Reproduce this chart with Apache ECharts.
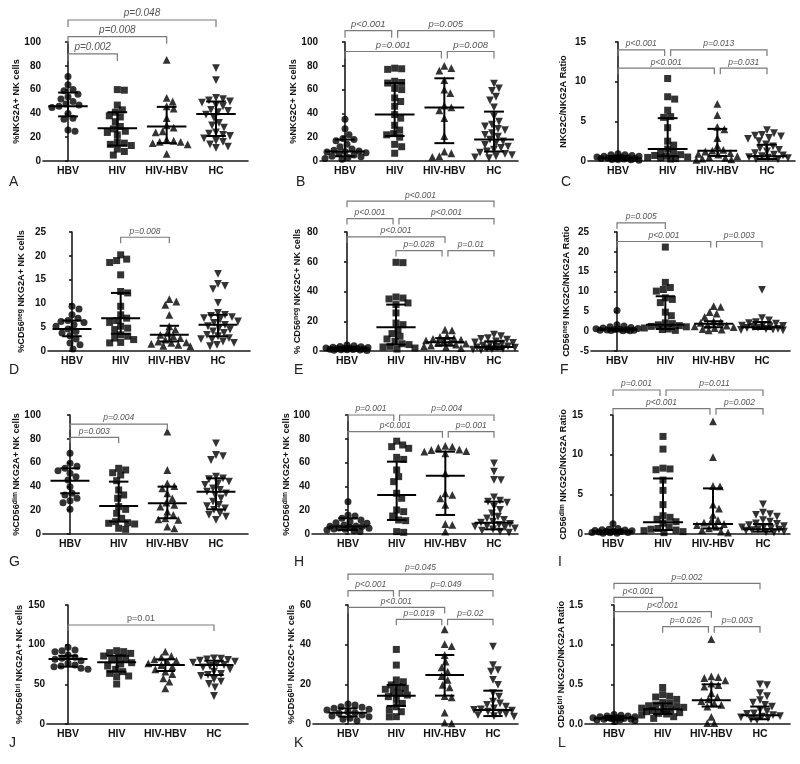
<!DOCTYPE html>
<html><head><meta charset="utf-8">
<script src="https://cdn.jsdelivr.net/npm/echarts@6/dist/echarts.min.js"></script>
<style>html,body{margin:0;padding:0;background:#fff}#c{width:800px;height:764px}</style>
</head><body><div id="c"></div>
<script>
const groups = ['HBV', 'HIV', 'HIV-HBV', 'HC'];
const symbols = ['circle', 'rect', 'triangle', 'triangle'];
const symRot = [0, 0, 0, 180];

// ---------- data: values per group [HBV, HIV, HIV-HBV, HC] ----------
const valsA = [
  [71, 64, 60, 59, 56, 54, 52, 50, 48, 47, 46, 45, 40, 36, 35, 26, 25],
  [60, 59.5, 47, 43, 41, 38, 37, 33, 29, 27, 25, 24, 22, 16, 15, 14, 13, 10, 8, 5],
  [85, 53, 50, 46, 44, 36, 30, 28, 25, 24, 18, 17, 16, 16, 15, 14, 6],
  [78, 68, 53, 52, 51, 50, 49, 47, 46, 43, 42, 41, 39, 36, 32, 30, 28, 24, 23, 22, 21, 19, 17, 16, 14, 12, 11]
];
const statsA = [[46, 37.5, 57.5], [27.5, 13, 41], [29, 15, 45.5], [39.5, 21, 50]];
const sigA = [[0, 1, 90, 'p=0.002'], [0, 2, 104.5, 'p=0.008'], [0, 3, 118.5, 'p=0.048']];

const valsB = [
  [35, 27, 22, 19, 18, 17, 14, 12, 10, 9, 8.5, 8, 7.5, 7, 6, 5, 4, 3.5, 3, 2, 1.5],
  [78, 77.5, 77, 67, 66, 65.5, 61, 60, 53, 50, 46, 39, 36, 30, 26, 23, 22, 20, 14, 12, 6.5],
  [80, 78, 76, 68, 60, 57, 46.5, 45, 42.5, 36, 21, 8, 6.5, 4, 3.5],
  [65, 61, 59, 54, 51, 45, 37.5, 33, 30.5, 29, 27, 26, 23.5, 22, 20.5, 18, 16.5, 15, 13.5, 12, 11, 9.5, 8, 7, 6, 5, 4, 3, 2.5]
];
const statsB = [[8, 4, 18], [39, 21, 65.5], [45, 15, 69.5], [18, 8, 41.5]];
const sigB = [[0, 1, 109.5, 'p<0.001'], [1, 3, 109.5, 'p=0.005'], [0, 2, 92, 'p=0.001'], [2, 3, 92, 'p=0.008']];

const valsC = [
  [0.9, 0.8, 0.8, 0.7, 0.6, 0.6, 0.5, 0.5, 0.4, 0.4, 0.35, 0.3, 0.3, 0.25, 0.2, 0.2, 0.15, 0.1],
  [10.4, 8.1, 7.8, 6.4, 5.6, 5.5, 4.2, 2.5, 2.0, 1.5, 1.2, 1.0, 0.8, 0.7, 0.6, 0.5, 0.45, 0.4, 0.3, 0.25],
  [7.2, 5.8, 4.3, 4.0, 2.9, 1.9, 1.4, 1.3, 1.2, 1.0, 0.9, 0.8, 0.6, 0.5, 0.4, 0.3, 0.2, 0.15],
  [3.9, 3.5, 3.3, 3.2, 3.1, 2.9, 2.8, 2.5, 2.1, 1.85, 1.6, 1.4, 1.2, 1.0, 0.8, 0.7, 0.6, 0.5, 0.42, 0.35, 0.25, 0.2]
];
const statsC = [[0.33, 0.15, 0.6], [1.5, 0.6, 5.4], [1.3, 0.63, 4.05], [0.59, 0.25, 2.05]];
const sigC = [[0, 1, 14, 'p<0.001'], [1, 3, 14, 'p=0.013'], [0, 2, 11.7, 'p<0.001'], [2, 3, 11.7, 'p=0.031']];

const valsD = [
  [9.4, 8.8, 7.6, 6.9, 6.4, 6.2, 6, 5.5, 5.2, 4.6, 4.1, 3.8, 3.2, 2.5, 1.7, 1.3, 0.4],
  [20.2, 19.3, 19.0, 18.6, 16, 12.5, 12.2, 9.4, 7.6, 6.9, 6.4, 6, 5.2, 4.8, 4.5, 3.4, 3.1, 2.7, 2.4, 1.8, 1.7],
  [10.9, 10.4, 9.7, 7.6, 5.2, 4.5, 3.8, 3.4, 3.1, 2.7, 2.4, 2, 1.8, 1.7, 1.5, 1.3, 1.1, 1],
  [16.2, 14.1, 13.7, 13, 10.1, 8, 7.6, 7.4, 7.1, 6.9, 6.6, 6.2, 5.9, 5.5, 5.2, 4.8, 4.5, 4.1, 3.8, 3.4, 3.1, 2.7, 2.5, 2.4, 2, 1.7, 1.3, 1]
];
const statsD = [[4.6, 3.1, 6.4], [6.9, 3.6, 12.2], [3.4, 2.0, 5.3], [5.5, 3.1, 7.6]];
const sigD = [[1, 2, 23.9, 'p=0.008']];

const valsE = [
  [4, 3.5, 3, 2.8, 2.5, 2.3, 2.1, 2.0, 1.8, 1.6, 1.5, 1.3, 1.2, 1.0, 0.9, 0.8, 0.6, 0.5, 0.3],
  [59.6, 59.4, 36.3, 35.6, 35, 32.3, 31.2, 25.6, 18.8, 17.7, 14.3, 11.7, 9.9, 8.1, 6.5, 4.9, 4.3, 3.1, 2.7, 2, 1.3],
  [14.3, 13.9, 9.9, 9.4, 8.7, 8.1, 7.6, 7.2, 6.5, 5.8, 5.4, 4.9, 4.3, 3.6, 3.1, 2.7, 2],
  [11, 9.9, 8.7, 8.1, 7.6, 6.5, 5.8, 5.4, 4.9, 4.3, 3.6, 3.1, 2.7, 2.2, 1.8, 1.3, 0.9, 0.6, 1.5, 2.4]
];
const statsE = [[1.5, 0.9, 2.5], [15.9, 4.3, 31.2], [5.8, 3.6, 8.7], [2.7, 1.3, 6.5]];
const sigE = [[0, 3, 100.7, 'p<0.001'], [0, 1, 89, 'p<0.001'], [1, 3, 89, 'p<0.001'], [0, 2, 76.7, 'p<0.001'], [1, 2, 67.5, 'p=0.028'], [2, 3, 67.5, 'p=0.01']];

const valsF = [
  [5.2, 1.6, 1.3, 1.1, 0.9, 0.8, 0.7, 0.6, 0.5, 0.4, 0.35, 0.3, 0.25, 0.2, 0.15, 0.1, 0.1],
  [21.2, 12.3, 11, 10.5, 10.1, 8.4, 8, 7.2, 4.8, 3.9, 2.1, 1.9, 1.6, 1.4, 1.2, 1.1, 0.8, 0.55, 0.4, 0.2],
  [6.3, 6.1, 4.8, 4.4, 3.6, 2.5, 2.3, 2.1, 1.6, 1.4, 1.2, 1.05, 0.8, 0.55, 0.4, 0.2],
  [10.4, 3.3, 2.7, 2.3, 1.9, 1.6, 1.4, 1.2, 1.05, 0.8, 0.55, 0.4, 0.2, 0.3, 0.6, 0.9, 1.3, 2.0]
];
const statsF = [[0.4, 0.2, 0.6], [1.6, 0.55, 8.8], [1.9, 1.0, 2.5], [1.0, 0.55, 2.3]];
const sigF = [[0, 1, 27.3, 'p=0.005'], [0, 2, 22.6, 'p<0.001'], [2, 3, 22.6, 'p=0.003']];

const valsG = [
  [67.8, 59.4, 57, 55.2, 53.2, 51, 48.2, 45.4, 39.8, 34.2, 32.8, 30, 28, 26.3, 20.7],
  [55.2, 53.8, 51.5, 49.6, 44.8, 37, 32.8, 30, 23, 20.7, 17.4, 13.2, 10.4, 9.5, 9, 8.4, 4.8, 3.9],
  [86, 53.8, 42.6, 40.3, 38.4, 34.2, 30, 26.3, 24.4, 23, 18.8, 16, 13.2, 12.3, 11.8, 6.2, 4.8],
  [76.2, 66.4, 65.5, 62.2, 48.2, 46.8, 46, 44, 42.6, 41.2, 38.4, 37, 35.6, 34.2, 32.8, 30, 27.2, 24.4, 23.5, 21.6, 20.2, 17.4, 16, 14.6, 11.8]
];
const statsG = [[44.8, 34.2, 55.2], [23.5, 10.4, 44], [25.8, 13.2, 39.8], [35.6, 20.7, 46.8]];
const sigG = [[0, 1, 81.2, 'p=0.003'], [0, 2, 92.4, 'p=0.004']];

const valsH = [
  [27.2, 16, 15.1, 13.2, 11.8, 10.4, 9.5, 9, 7.6, 6.7, 6.2, 5.6, 4.8, 3.9, 3.4, 2.8, 2, 5, 4.2, 6.5],
  [78, 74.8, 73.4, 72, 64.4, 62.7, 53.8, 48.2, 44, 34.2, 30, 20.2, 18.8, 15.1, 11.8, 11.2, 2, 1.4],
  [74, 73.4, 72.5, 71, 70.6, 69.7, 69.2, 67.8, 51, 34.2, 32.8, 30, 24.4, 8.4, 7.6, 2],
  [59.4, 52.4, 45.4, 45.2, 30.8, 28, 27.2, 26.3, 23, 20.2, 17.4, 14.6, 13.2, 11.8, 10.4, 9.5, 8.4, 7.6, 6.7, 6.2, 5.6, 4.8, 3.9, 2.8, 2, 1.1]
];
const statsH = [[6.2, 3.4, 13.2], [32.8, 11.8, 60.8], [49, 16, 69.2], [9.5, 3.9, 27.2]];
const sigH = [[0, 1, 100, 'p=0.001'], [1, 3, 100, 'p=0.004'], [0, 2, 86, 'p<0.001'], [2, 3, 86, 'p=0.001']];

const valsI = [
  [1.3, 0.7, 0.6, 0.55, 0.5, 0.45, 0.4, 0.35, 0.3, 0.3, 0.25, 0.2, 0.2, 0.15, 0.1, 0.1],
  [12.3, 10.7, 8.3, 8.2, 8.1, 6.8, 5.5, 3.7, 2.3, 2.1, 1.85, 1.55, 1.35, 0.9, 0.7, 0.6, 0.5, 0.42, 0.3, 0.17],
  [14.2, 9.7, 6.05, 6, 3.7, 3.2, 2.4, 1.75, 1.55, 1.43, 1.26, 1.13, 0.9, 0.7, 0.5, 0.3, 0.17],
  [3.74, 2.7, 2.5, 2.4, 2.2, 1.75, 1.55, 1.35, 1.26, 1.13, 1.0, 0.9, 0.84, 0.7, 0.6, 0.5, 0.42, 0.3, 0.17, 0.25, 0.55]
];
const statsI = [[0.3, 0.15, 0.5], [1.47, 0.5, 7.0], [1.26, 0.7, 5.75], [0.6, 0.3, 1.26]];
const sigI = [[0, 1, 18.15, 'p=0.001'], [1, 3, 18.15, 'p=0.011'], [0, 2, 15.8, 'p<0.001'], [2, 3, 15.8, 'p=0.002']];

const valsJ = [
  [96.6, 93.3, 92.4, 91.2, 87, 84, 82.8, 81.5, 79.8, 76.5, 74.4, 73.1, 72.3, 70.2, 68.9],
  [92.4, 91.2, 89.9, 89, 85.7, 84, 82.8, 80.7, 77.3, 75.6, 73.1, 68.9, 66, 63.8, 60.5, 59.7, 50.4],
  [91.2, 85.7, 84, 81.5, 79.8, 78.6, 76.5, 74.4, 72.3, 68.9, 66, 63, 57.6, 53.4, 45],
  [82.8, 82.5, 81.5, 80.7, 79.8, 78.6, 77.3, 75.6, 74.4, 73.1, 71.4, 68.9, 66, 63, 61.8, 60.5, 56.3, 53.4, 50.4, 46.2, 35.3]
];
const statsJ = [[82, 72.3, 86], [77.7, 66, 86], [74.4, 66.8, 81.5], [74.4, 61.8, 79.8]];
const sigJ = [[0, 3, 124.8, 'p=0.01']];

const valsK = [
  [10.1, 9.6, 8.7, 8.4, 7.9, 7.4, 7.1, 6.2, 5.7, 5.4, 4.5, 4, 3.7, 2.9, 2.4, 1.7],
  [37.6, 29.7, 22.2, 21.3, 19.7, 18.8, 18, 17.5, 16.3, 15.5, 14.6, 13.8, 12.4, 10.4, 8.7, 7.1, 6.2, 3.7, 3.6],
  [47.7, 40.3, 39.3, 34.8, 31.4, 28.6, 26.4, 24.2, 22.2, 19.7, 18.5, 14.1, 13.4, 5.7, 0.7, 0.3],
  [39, 29.7, 27.2, 26.4, 22.2, 19.7, 15.5, 13.8, 11.3, 10.4, 9.6, 8.7, 7.9, 7.4, 7.1, 6.7, 6.2, 5.7, 5, 4.5, 4, 3.7]
];
const statsK = [[5.7, 3.7, 7.9], [14.3, 9.1, 19.7], [24.7, 14.3, 34.8], [7.1, 4, 16.8]];
const sigK = [[0, 3, 75.6, 'p=0.045'], [0, 1, 67.2, 'p<0.001'], [1, 3, 67.2, 'p=0.049'], [0, 2, 58.8, 'p<0.001'], [1, 2, 52.8, 'p=0.019'], [2, 3, 52.8, 'p=0.02']];

const valsL = [
  [0.12, 0.11, 0.1, 0.1, 0.09, 0.09, 0.08, 0.08, 0.07, 0.07, 0.06, 0.06, 0.05, 0.05, 0.04, 0.03],
  [0.46, 0.37, 0.35, 0.34, 0.31, 0.27, 0.26, 0.24, 0.23, 0.22, 0.21, 0.2, 0.185, 0.176, 0.168, 0.155, 0.143, 0.134, 0.126, 0.113, 0.092, 0.071],
  [1.07, 0.6, 0.59, 0.58, 0.55, 0.51, 0.49, 0.47, 0.39, 0.34, 0.31, 0.29, 0.26, 0.24, 0.22, 0.09, 0.01, 0.01],
  [0.5, 0.49, 0.39, 0.35, 0.3, 0.27, 0.24, 0.22, 0.176, 0.155, 0.134, 0.126, 0.113, 0.1, 0.092, 0.084, 0.071, 0.059, 0.05]
];
const statsL = [[0.075, 0.05, 0.1], [0.185, 0.126, 0.26], [0.3, 0.22, 0.5], [0.11, 0.06, 0.22]];
const sigL = [[0, 3, 1.773, 'p=0.002'], [0, 1, 1.597, 'p<0.001'], [0, 2, 1.416, 'p<0.001'], [1, 2, 1.227, 'p=0.026'], [2, 3, 1.227, 'p=0.003']];

// y axis ranges [min, max, interval]
const yA = [0, 100, 20], yB = [0, 100, 20], yC = [0, 15, 5], yD = [0, 25, 5], yE = [0, 80, 20], yF = [-5, 25, 5];
const yG = [0, 100, 20], yH = [0, 100, 20], yI = [0, 15, 5], yJ = [0, 150, 50], yK = [0, 60, 20], yL = [0, 1.5, 0.5];

// y axis titles ({s|..} = superscript)
const titles = {
  A: '%NKG2A+ NK cells', B: '%NKG2C+ NK cells', C: 'NKG2C/NKG2A Ratio',
  D: '%CD56{s|neg} NKG2A+ NK cells', E: '% CD56{s|neg} NKG2C+ NK cells', F: 'CD56{s|neg} NKG2C/NKG2A Ratio',
  G: '%CD56{s|dim} NKG2A+ NK cells', H: '%CD56{s|dim} NKG2C+ NK cells', I: 'CD56{s|dim} NKG2C/NKG2A Ratio',
  J: '%CD56{s|bri} NKG2A+ NK cells', K: '%CD56{s|bri} NKG2C+ NK cells', L: 'CD56{s|bri} NKG2C/NKG2A Ratio'
};

const panels = [
  ['A', valsA, statsA, sigA, yA], ['B', valsB, statsB, sigB, yB], ['C', valsC, statsC, sigC, yC],
  ['D', valsD, statsD, sigD, yD], ['E', valsE, statsE, sigE, yE], ['F', valsF, statsF, sigF, yF],
  ['G', valsG, statsG, sigG, yG], ['H', valsH, statsH, sigH, yH], ['I', valsI, statsI, sigI, yI],
  ['J', valsJ, statsJ, sigJ, yJ], ['K', valsK, statsK, sigK, yK], ['L', valsL, statsL, sigL, yL]
];

// ---------- layout (pixels): axisX, top, endX, firstCenter, lastCenter, nameGap, letterX, letterY ----------
const geom = {
  A: [43, 42, 248, 68, 216, 22, 9, 175],  B: [320, 42, 518, 345, 494, 22, 296, 175], C: [588, 42, 795, 618, 767, 20, 561, 175],
  D: [48, 232, 250, 72, 218, 22, 9, 363], E: [320, 232, 518, 347, 494, 18, 294, 363], F: [591, 232, 790, 617, 762, 20, 560, 363],
  G: [43, 415, 248, 70, 216, 22, 9, 555], H: [312, 415, 518, 348, 494, 21, 294, 555], I: [585, 415, 790, 613, 763, 17, 558, 555],
  J: [47, 605, 248, 68, 214, 23, 9, 736], K: [313, 605, 518, 348, 493, 17, 294, 736], L: [585, 605, 790, 614, 760, 19, 558, 736]
};
const PLOT_H = 119;
const FONT = '"Liberation Sans", Arial, Helvetica, sans-serif';
const pFont = { A: 'italic 10px', B: 'italic 9.5px', J: '9px' };

// deterministic beeswarm (pixel space), limited half width
function swarm(values, pxPerUnit, D, maxW) {
  const placed = [], out = new Array(values.length);
  const order = values.map((v, i) => i).sort((a, b) => values[b] - values[a]);
  for (const idx of order) {
    const y = values[idx] * pxPerUnit;
    let best = 0, bestScore = -Infinity;
    for (let k = 0; k <= 2 * maxW; k++) {
      const x = (k % 2 ? 1 : -1) * Math.ceil(k / 2);
      let md = Infinity;
      for (const p of placed) { const d = Math.hypot(p.x - x, p.y - y); if (d < md) md = d; }
      if (md >= D) { best = x; bestScore = Infinity; break; }
      if (md > bestScore + 0.01) { bestScore = md; best = x; }
    }
    placed.push({ x: best, y });
    out[idx] = best;
  }
  return out;
}

const option = { animation: false, backgroundColor: '#fff', grid: [], xAxis: [], yAxis: [], series: [], graphic: [] };
const axisCol = '#1a1a1a';

panels.forEach(([key, vals, stats, sig, yr], k) => {
  const [axisX, top, endX, c0, c3, nameGap, lx, ly] = geom[key];
  const sp = (c3 - c0) / 3;
  const xmin = -(c0 - axisX) / sp, xmax = 3 + (endX - c3) / sp;
  option.grid.push({ left: axisX, top: top, width: endX - axisX, height: PLOT_H });
  option.xAxis.push({
    type: 'value', gridIndex: k, min: xmin, max: xmax,
    axisLine: { show: true, onZero: false, lineStyle: { color: axisCol, width: 1.6 } },
    axisTick: { show: false }, splitLine: { show: false },
    axisLabel: { customValues: [0, 1, 2, 3], formatter: v => groups[Math.round(v)] || '', color: '#111',
      fontWeight: 'bold', fontSize: 10.5, fontFamily: FONT, margin: 5 }
  });
  option.yAxis.push({
    type: 'value', gridIndex: k, min: yr[0], max: yr[1], interval: yr[2],
    axisLine: { show: true, lineStyle: { color: axisCol, width: 1.6 } },
    axisTick: { show: true, length: 3, lineStyle: { color: axisCol, width: 1.6 } },
    splitLine: { show: false },
    axisLabel: { color: '#111', fontWeight: 'bold', fontSize: 10, fontFamily: FONT, margin: 2,
      formatter: key === 'L' ? (v => v.toFixed(1)) : (v => String(v)) },
    name: titles[key], nameLocation: 'middle', nameGap: nameGap, nameMoveOverlap: false,
    nameTextStyle: { color: '#111', fontWeight: 'bold', fontSize: 9.2, fontFamily: FONT,
      rich: { s: { fontSize: 6.8, fontWeight: 'bold', fontFamily: FONT, color: '#111', verticalAlign: 'top' } } }
  });
  const ppu = PLOT_H / (yr[1] - yr[0]);
  vals.forEach((arr, g) => {
    const dx = swarm(arr, ppu, 6.8, 21);
    option.series.push({
      type: 'scatter', xAxisIndex: k, yAxisIndex: k, silent: true,
      symbol: symbols[g], symbolRotate: symRot[g], symbolSize: g === 2 || g === 3 ? 7.8 : 7,
      itemStyle: { color: '#000' },
      data: arr.map((v, j) => [g + dx[j] / sp, v]), z: 2
    });
  });
  // median and interquartile range
  option.series.push({
    type: 'custom', xAxisIndex: k, yAxisIndex: k, silent: true, z: 3,
    data: stats.map((s, g) => [g, s[0], s[1], s[2]]),
    encode: { x: 0, y: [1, 2, 3] },
    renderItem: (params, api) => {
      const g = api.value(0);
      const pm = api.coord([g, api.value(1)]);
      const p1 = api.coord([g, api.value(2)]);
      const p3 = api.coord([g, api.value(3)]);
      const w = api.size([1, 0])[0];
      const hw = 0.4 * w, cw = 0.2 * w;
      const st = { stroke: '#000', lineWidth: 2 };
      return { type: 'group', children: [
        { type: 'line', shape: { x1: pm[0] - hw, y1: pm[1], x2: pm[0] + hw, y2: pm[1] }, style: st },
        { type: 'line', shape: { x1: p1[0], y1: p1[1], x2: p3[0], y2: p3[1] }, style: st },
        { type: 'line', shape: { x1: p1[0] - cw, y1: p1[1], x2: p1[0] + cw, y2: p1[1] }, style: st },
        { type: 'line', shape: { x1: p3[0] - cw, y1: p3[1], x2: p3[0] + cw, y2: p3[1] }, style: st }
      ] };
    }
  });
  // significance brackets
  const font = (pFont[key] || 'italic 8.5px') + ' ' + FONT;
  option.series.push({
    type: 'custom', xAxisIndex: k, yAxisIndex: k, silent: true, z: 4, clip: false,
    data: sig.map(b => [b[0], b[1], b[2]]),
    encode: { x: [0, 1], y: 2 },
    renderItem: (params, api) => {
      const b = sig[params.dataIndex];
      const shareL = sig.some(o => o !== b && o[2] === b[2] && o[1] === b[0]);
      const shareR = sig.some(o => o !== b && o[2] === b[2] && o[0] === b[1]);
      const a = api.coord([b[0] + (shareL ? 0.06 : 0), b[2]]);
      const c = api.coord([b[1] - (shareR ? 0.06 : 0), b[2]]);
      const tick = key === 'A' || key === 'B' ? 7 : 6;
      const st = { stroke: '#7a7a7a', lineWidth: 1.2, fill: null };
      return { type: 'group', children: [
        { type: 'polyline', shape: { points: [[a[0], a[1] + tick], [a[0], a[1]], [c[0], c[1]], [c[0], c[1] + tick]] }, style: st },
        { type: 'text', style: { text: b[3], x: (a[0] + c[0]) / 2, y: a[1] - 1.5, font: font, fill: '#555',
          align: 'center', verticalAlign: 'bottom' } }
      ] };
    }
  });
  option.graphic.push({ type: 'text', left: lx, top: ly, silent: true,
    style: { text: key, font: '14px ' + FONT, fill: '#222' } });
});

const chart = echarts.init(document.getElementById('c'), null, { renderer: 'canvas' });
chart.setOption(option);
</script>
</body></html>
